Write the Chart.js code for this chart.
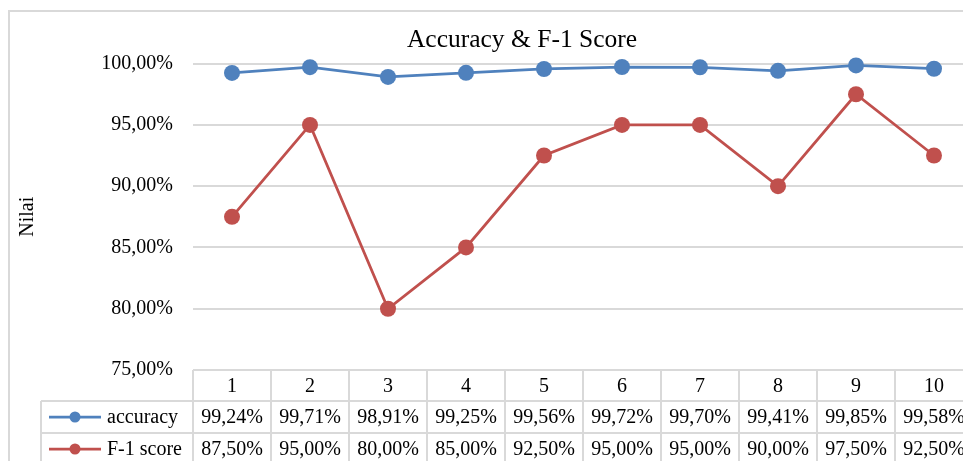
<!DOCTYPE html>
<html>
<head>
<meta charset="utf-8">
<script src="https://cdn.jsdelivr.net/npm/chart.js@4.4.0/dist/chart.umd.min.js"></script>
<style>
    html, body { margin: 0; padding: 0; background: #fff; overflow: hidden; }
    #contenedor { width: 963px; height: 461px; overflow: hidden; }
    canvas { display: block; }
</style>
</head>
<body>
<div id="contenedor"><canvas id="grafica" width="1044" height="480"></canvas></div>
<script>
// Datos
const categorias = ['1', '2', '3', '4', '5', '6', '7', '8', '9', '10'];
const accuracy = [99.24, 99.71, 98.91, 99.25, 99.56, 99.72, 99.70, 99.41, 99.85, 99.58];
const f1Score = [87.50, 95.00, 80.00, 85.00, 92.50, 95.00, 95.00, 90.00, 97.50, 92.50];
const nombresSeries = ['accuracy', 'F-1 score'];
const ticksY = [75, 80, 85, 90, 95, 100];

const colores = {
    accuracy: '#4f81bd',
    f1: '#c0504d',
    rejilla: '#d9d9d9',
    texto: '#000000'
};
const fuente = '"Liberation Serif", "Times New Roman", serif';

function formatoPct(v) {
    return v.toFixed(2).replace('.', ',') + '%';
}

// Borde exterior y tabla de datos bajo la grafica
const tablaDatos = {
    id: 'tablaDatos',
    afterLayout(chart) {
        // el titulo se centra sobre todo el lienzo, como en Excel
        const t = chart.titleBlock;
        if (t) {
            t.left = 0;
            t.right = chart.width;
            t.width = chart.width;
        }
    },
    beforeDraw(chart) {
        const ctx = chart.ctx;
        ctx.save();
        ctx.strokeStyle = colores.rejilla;
        ctx.lineWidth = 2;
        ctx.strokeRect(9, 11, chart.width, chart.height);
        ctx.restore();
    },
    afterDraw(chart) {
        const ctx = chart.ctx;
        const x = chart.scales.x;
        const area = chart.chartArea;
        const n = categorias.length;
        const anchoCelda = x.width / n;
        const filas = [area.bottom, area.bottom + 31, area.bottom + 63, area.bottom + 95];
        const izqLeyenda = area.left - 152;
        const series = [
            { nombre: nombresSeries[0], datos: accuracy, color: colores.accuracy },
            { nombre: nombresSeries[1], datos: f1Score, color: colores.f1 }
        ];

        ctx.save();
        ctx.strokeStyle = colores.rejilla;
        ctx.lineWidth = 2;
        ctx.beginPath();
        // lineas horizontales
        ctx.moveTo(area.left, filas[0]); ctx.lineTo(x.right, filas[0]);
        for (let r = 1; r < filas.length; r++) {
            ctx.moveTo(izqLeyenda, filas[r]); ctx.lineTo(x.right, filas[r]);
        }
        // lineas verticales
        for (let i = 0; i <= n; i++) {
            const xi = x.left + i * anchoCelda;
            ctx.moveTo(xi, filas[0]); ctx.lineTo(xi, filas[3]);
        }
        ctx.moveTo(izqLeyenda, filas[1]); ctx.lineTo(izqLeyenda, filas[3]);
        ctx.stroke();

        ctx.fillStyle = colores.texto;
        ctx.font = '20px ' + fuente;
        ctx.textAlign = 'center';
        ctx.textBaseline = 'middle';
        categorias.forEach((c, i) => {
            ctx.fillText(c, x.getPixelForValue(i), (filas[0] + filas[1]) / 2 + 1);
        });
        series.forEach((s, r) => {
            const yc = (filas[r + 1] + filas[r + 2]) / 2 + 1;
            s.datos.forEach((v, i) => {
                ctx.fillText(formatoPct(v), x.getPixelForValue(i), yc);
            });
            // simbolo de leyenda
            ctx.strokeStyle = s.color;
            ctx.lineWidth = 2.75;
            ctx.beginPath();
            ctx.moveTo(izqLeyenda + 8, yc - 1);
            ctx.lineTo(izqLeyenda + 60, yc - 1);
            ctx.stroke();
            ctx.fillStyle = s.color;
            ctx.beginPath();
            ctx.arc(izqLeyenda + 34, yc - 1, 5.5, 0, Math.PI * 2);
            ctx.fill();
            ctx.fillStyle = colores.texto;
            ctx.textAlign = 'left';
            ctx.fillText(s.nombre, izqLeyenda + 66, yc);
            ctx.textAlign = 'center';
        });
        ctx.restore();
    }
};

const ctxGrafica = document.getElementById('grafica').getContext('2d');

new Chart(ctxGrafica, {
    type: 'line',
    data: {
        labels: categorias,
        datasets: [{
            label: nombresSeries[0],
            data: accuracy,
            borderColor: colores.accuracy,
            backgroundColor: colores.accuracy,
            pointBackgroundColor: colores.accuracy,
            borderWidth: 2.75,
            pointRadius: 8,
            pointBorderWidth: 0,
            tension: 0
        }, {
            label: nombresSeries[1],
            data: f1Score,
            borderColor: colores.f1,
            backgroundColor: colores.f1,
            pointBackgroundColor: colores.f1,
            borderWidth: 2.75,
            pointRadius: 8,
            pointBorderWidth: 0,
            tension: 0
        }]
    },
    options: {
        responsive: false,
        animation: false,
        clip: false,
        layout: {
            padding: { left: 0, right: 71, top: 0, bottom: 110 }
        },
        plugins: {
            legend: { display: false },
            tooltip: { enabled: false },
            title: {
                display: true,
                text: 'Accuracy & F-1 Score',
                color: colores.texto,
                font: { family: fuente, size: 25.5, weight: 'normal' },
                padding: { top: 25, bottom: 8 }
            }
        },
        scales: {
            x: {
                display: false,
                offset: true
            },
            y: {
                min: 75,
                max: 100,
                afterBuildTicks: (scale) => {
                    scale.ticks = ticksY.map(v => ({ value: v }));
                },
                afterFit: (scale) => {
                    scale.width = 193;
                },
                border: { display: false },
                grid: {
                    color: colores.rejilla,
                    lineWidth: 2,
                    drawTicks: false
                },
                ticks: {
                    padding: 20,
                    color: colores.texto,
                    font: { family: fuente, size: 20 },
                    callback: (v) => formatoPct(v)
                },
                title: {
                    display: true,
                    text: 'Nilai',
                    color: colores.texto,
                    font: { family: fuente, size: 20 },
                    padding: { top: 16, bottom: 0 }
                }
            }
        }
    },
    plugins: [tablaDatos]
});
</script>
</body>
</html>
